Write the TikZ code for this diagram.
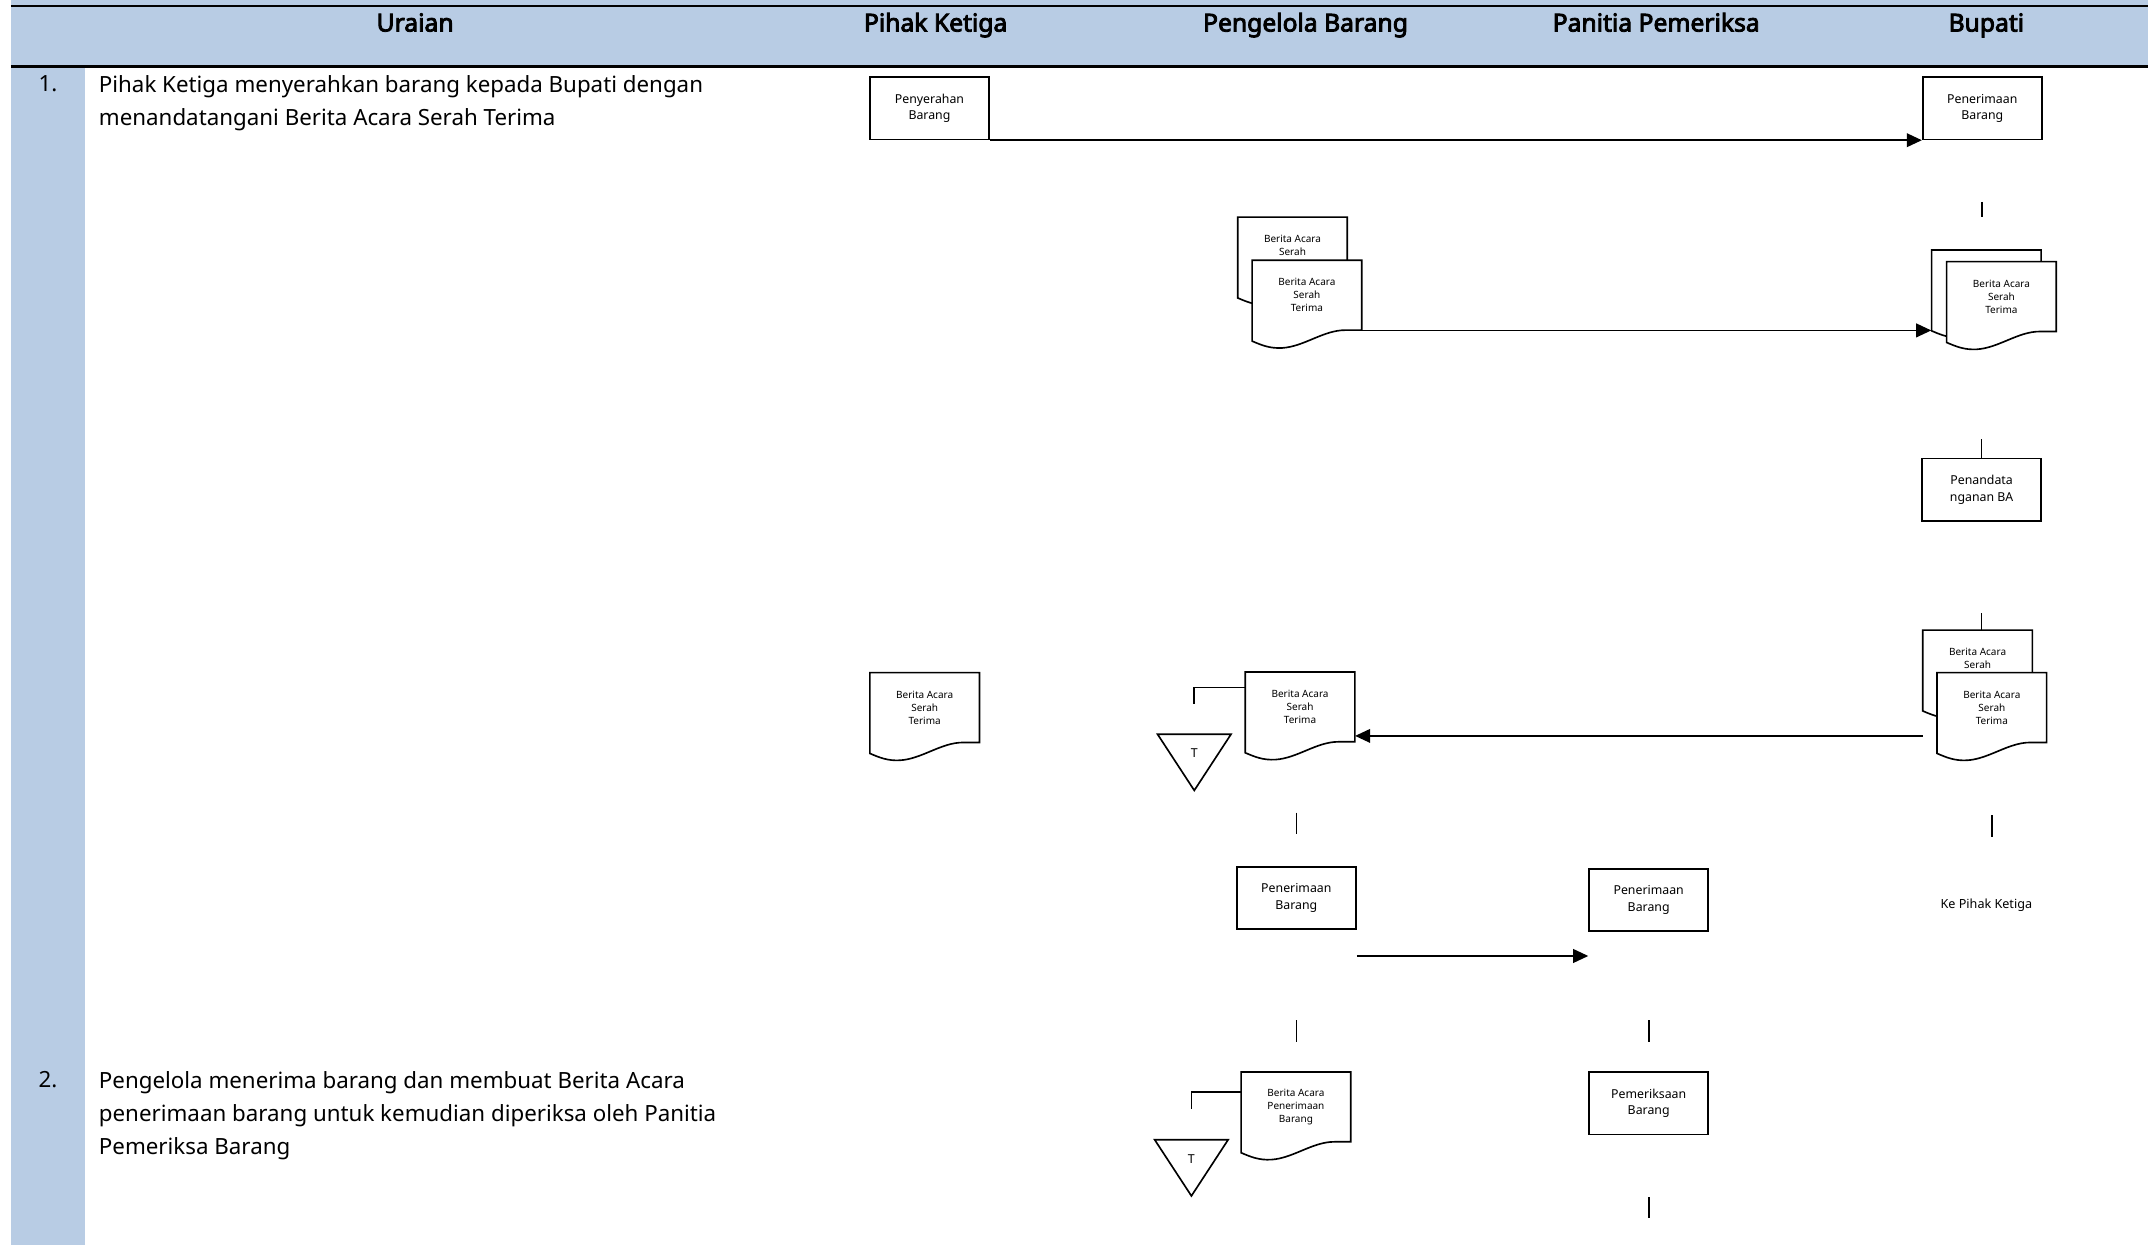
\documentclass[tikz,border=0pt]{standalone}
\usepackage{fontspec}
\setmainfont{Noto Sans}[AutoFakeBold=3.5]
\usetikzlibrary{arrows.meta,calc}
\definecolor{birukepala}{RGB}{184,204,228}

\tikzset{
  garis/.style={line width=1.2pt},
  kotak/.style={draw,line width=1.2pt,minimum width=87pt,minimum height=45.5pt,inner sep=0pt,align=center,font=\fontsize{9}{12}\selectfont},
  isidok/.style={minimum width=80pt,minimum height=51pt,inner sep=0pt,align=center,font=\fontsize{7.3}{9.5}\selectfont},
  judul/.style={font=\fontsize{18}{21}\selectfont\bfseries,anchor=base},
  uraian/.style={font=\fontsize{16.3}{24}\selectfont,align=left,anchor=north west,inner sep=0pt},
}

% dokumen: nama, pojok kiri atas, isi
\newcommand{\dokumen}[3]{%
  \begin{scope}[shift={(#2)}]
    \draw[garis,fill=white] (0,0) -- (0,59) .. controls (7,62) and (13,64.5) .. (22,64) .. controls (38,63) and (52,51) .. (68,51) -- (80,51) -- (80,0) -- cycle;
    \node[isidok] (#1) at (40,25.5) {#3};
  \end{scope}}

% arsip: nama, tengah sisi atas
\newcommand{\arsip}[2]{%
  \begin{scope}[shift={(#2)}]
    \coordinate (#1-atas) at (0,0);
    \draw[garis] (-26.8,0) -- (26.8,0) -- (0,41) -- cycle;
    \node[font=\fontsize{9}{10}\selectfont] (#1) at (0,14) {T};
  \end{scope}}

\begin{document}
\begin{tikzpicture}[x=1pt,y=-1pt,>={Triangle[length=11pt,width=10pt]}]
\useasboundingbox (0,0) rectangle (1568,909);
% kepala tabel
\fill[birukepala] (8,0) rectangle (1568,48.5);
\fill[birukepala] (8,48.5) rectangle (62,909);
\draw[line width=2pt] (8,4.4) -- (1568,4.4);
\draw[line width=2pt] (8,48.5) -- (1568,48.5);
\node[judul] (hUraian) at (303,23) {Uraian};
\node[judul] (hPihak) at (683,23) {Pihak Ketiga};
\node[judul] (hPengelola) at (953,23) {Pengelola Barang};
\node[judul] (hPanitia) at (1209,23) {Panitia Pemeriksa};
\node[judul] (hBupati) at (1450,23) {Bupati};

% uraian
\node[font=\fontsize{16.3}{24}\selectfont,anchor=base] (no1) at (35,67) {1.};
\node[uraian] (teks1) at (72,55) {Pihak Ketiga menyerahkan barang kepada Bupati dengan\\menandatangani Berita Acara Serah Terima};
\node[font=\fontsize{16.3}{24}\selectfont,anchor=base] (no2) at (35,794) {2.};
\node[uraian] (teks2) at (72,782) {Pengelola menerima barang dan membuat Berita Acara\\penerimaan barang untuk kemudian diperiksa oleh Panitia\\Pemeriksa Barang};

% proses
\node[kotak] (pkSerah) at (678.5,79) {Penyerahan\\Barang};
\node[kotak] (bpTerima) at (1447,79) {Penerimaan\\Barang};
\node[kotak] (bpTanda) at (1446.5,357.5) {Penandata\\nganan BA};
\node[kotak] (pgTerima) at (946.3,655.5) {Penerimaan\\Barang};
\node[kotak] (ppTerima) at (1203.5,657) {Penerimaan\\Barang};
\node[kotak] (ppPeriksa) at (1203.5,805.5) {Pemeriksaan\\Barang};

% dokumen
\dokumen{pgDokA}{903.5,158.5}{Berita Acara\\Serah\\\mbox{}}
\dokumen{pgDokB}{914,190}{Berita Acara\\Serah\\Terima}
\dokumen{bpDokA}{1410,182.5}{}
\dokumen{bpDokB}{1421,191}{Berita Acara\\Serah\\Terima}
\dokumen{bpDokC}{1403.6,460}{Berita Acara\\Serah\\\mbox{}}
\dokumen{bpDokD}{1414,491}{Berita Acara\\Serah\\Terima}
\dokumen{pgDokC}{909,490.5}{Berita Acara\\Serah\\Terima}
\dokumen{pkDok}{635,491}{Berita Acara\\Serah\\Terima}
\dokumen{pgDokD}{906,782.5}{Berita Acara\\Penerimaan\\Barang}

\arsip{arsipA}{871.8,536}
\arsip{arsipB}{869.7,832}

\node[font=\fontsize{9.2}{11}\selectfont] (kePihak) at (1450,661) {Ke Pihak Ketiga};

% panah
\draw[garis,->] (pkSerah.south east) -- (bpTerima.south west);
\draw[garis,->] (pgDokB.south east) -- (pgDokB.south east -| bpDokA.west);
\draw[garis,->] ([yshift=5pt]bpDokD.south -| bpDokC.west) -- ([yshift=5pt]bpDokD.south -| pgDokC.east);
\draw[garis,->] ([yshift=-19pt]pgTerima.south east) -- ([yshift=-19pt]pgTerima.south east -| ppTerima.west);
\draw[garis] ([yshift=-11.5pt]pgDokC.north west) -| ([yshift=22pt]arsipA-atas);
\draw[garis] ([yshift=-15pt]pgDokD.north west) -| ([yshift=22.4pt]arsipB-atas);

% garis putus
\draw[garis] ([yshift=-45pt]bpTerima.south) -- ++(0,11);
\draw[garis] (bpTanda.north) -- ++(0,-14);
\draw[garis] (bpTanda.south |- bpDokC.north) -- ++(0,-12);
\draw[garis] ([yshift=-53pt]bpDokD.south) -- ++(0,16);
\draw[garis] ([yshift=39pt]pgTerima.north) -- ++(0,16);
\draw[garis] ([yshift=-66pt]pgTerima.south) -- ++(0,16);
\draw[garis] ([yshift=-64.5pt]ppTerima.south) -- ++(0,16);
\draw[garis] ([yshift=-45pt]ppPeriksa.south) -- ++(0,15.5);
\end{tikzpicture}
\end{document}
